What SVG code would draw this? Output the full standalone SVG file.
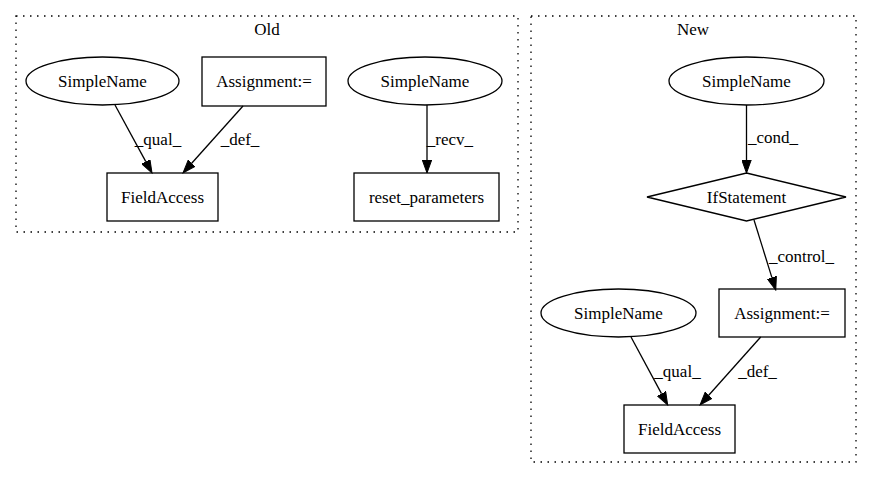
<svg xmlns="http://www.w3.org/2000/svg" width="872" height="480" viewBox="0 0 872 480">
<style>
.shape{fill:none;stroke:#000;stroke-width:1.3}
.cl{fill:none;stroke:#000;stroke-width:1.3;stroke-dasharray:1.5,5.5}
.e{stroke:#000;stroke-width:1.3;fill:none;marker-end:url(#a)}
</style>
<defs>
<marker id="a" markerUnits="userSpaceOnUse" markerWidth="14" markerHeight="10" refX="0" refY="5" orient="auto"><path d="M0,0.3 L13,5 L0,9.7 z" fill="#000" stroke="#000" stroke-width="1"/></marker>
</defs>
<g id="cluster-old">
<rect class="cl" x="16" y="16" width="502" height="216"/>
<text x="267" y="35" text-anchor="middle" font-family="Liberation Serif" font-size="17">Old</text>
</g>
<g id="cluster-new">
<rect class="cl" x="531" y="16" width="325" height="446"/>
<text x="693" y="35" text-anchor="middle" font-family="Liberation Serif" font-size="17">New</text>
</g>
<g id="old-simplename1"><ellipse class="shape" cx="102.5" cy="81" rx="76.5" ry="24"/><text x="102.5" y="86.5" text-anchor="middle" font-family="Liberation Serif" font-size="17">SimpleName</text></g>
<g id="old-assignment"><rect class="shape" x="202" y="57" width="124" height="49"/><text x="264" y="86.5" text-anchor="middle" font-family="Liberation Serif" font-size="17">Assignment:=</text></g>
<g id="old-simplename2"><ellipse class="shape" cx="425" cy="81" rx="77" ry="24"/><text x="425" y="86.5" text-anchor="middle" font-family="Liberation Serif" font-size="17">SimpleName</text></g>
<g id="old-fieldaccess"><rect class="shape" x="107" y="173" width="111" height="48"/><text x="162.5" y="202.5" text-anchor="middle" font-family="Liberation Serif" font-size="17">FieldAccess</text></g>
<g id="old-reset"><rect class="shape" x="354" y="173" width="145" height="48"/><text x="426.5" y="202.5" text-anchor="middle" font-family="Liberation Serif" font-size="17">reset_parameters</text></g>
<g id="new-simplename1"><ellipse class="shape" cx="746.5" cy="81" rx="77.5" ry="24"/><text x="746.5" y="86.5" text-anchor="middle" font-family="Liberation Serif" font-size="17">SimpleName</text></g>
<g id="new-if"><polygon class="shape" points="746.5,173 846,197 746.5,221 647,197"/><text x="746.5" y="202.5" text-anchor="middle" font-family="Liberation Serif" font-size="17">IfStatement</text></g>
<g id="new-assignment"><rect class="shape" x="719" y="289" width="126" height="48"/><text x="782" y="318.5" text-anchor="middle" font-family="Liberation Serif" font-size="17">Assignment:=</text></g>
<g id="new-simplename2"><ellipse class="shape" cx="618.5" cy="313" rx="77.5" ry="24"/><text x="618.5" y="318.5" text-anchor="middle" font-family="Liberation Serif" font-size="17">SimpleName</text></g>
<g id="new-fieldaccess"><rect class="shape" x="624" y="405" width="111" height="48"/><text x="679.5" y="434.5" text-anchor="middle" font-family="Liberation Serif" font-size="17">FieldAccess</text></g>
<g id="edges">
<line class="e" x1="115" y1="105" x2="145.8" y2="161.6"/>
<text x="158" y="145" text-anchor="middle" font-family="Liberation Serif" font-size="17">_qual_</text>
<line class="e" x1="243" y1="106" x2="191.7" y2="163.3"/>
<text x="240" y="145" text-anchor="middle" font-family="Liberation Serif" font-size="17">_def_</text>
<line class="e" x1="427" y1="105" x2="427" y2="160"/>
<text x="450" y="145" text-anchor="middle" font-family="Liberation Serif" font-size="17">_recv_</text>
<line class="e" x1="746.5" y1="105" x2="746.5" y2="160"/>
<text x="773" y="143" text-anchor="middle" font-family="Liberation Serif" font-size="17">_cond_</text>
<line class="e" x1="754" y1="220" x2="771.9" y2="277.6"/>
<text x="801.5" y="262" text-anchor="middle" font-family="Liberation Serif" font-size="17">_control_</text>
<line class="e" x1="631" y1="337" x2="661.5" y2="393.6"/>
<text x="677.5" y="377" text-anchor="middle" font-family="Liberation Serif" font-size="17">_qual_</text>
<line class="e" x1="760.7" y1="337" x2="708.7" y2="395.3"/>
<text x="757.5" y="377" text-anchor="middle" font-family="Liberation Serif" font-size="17">_def_</text>
</g>
</svg>
